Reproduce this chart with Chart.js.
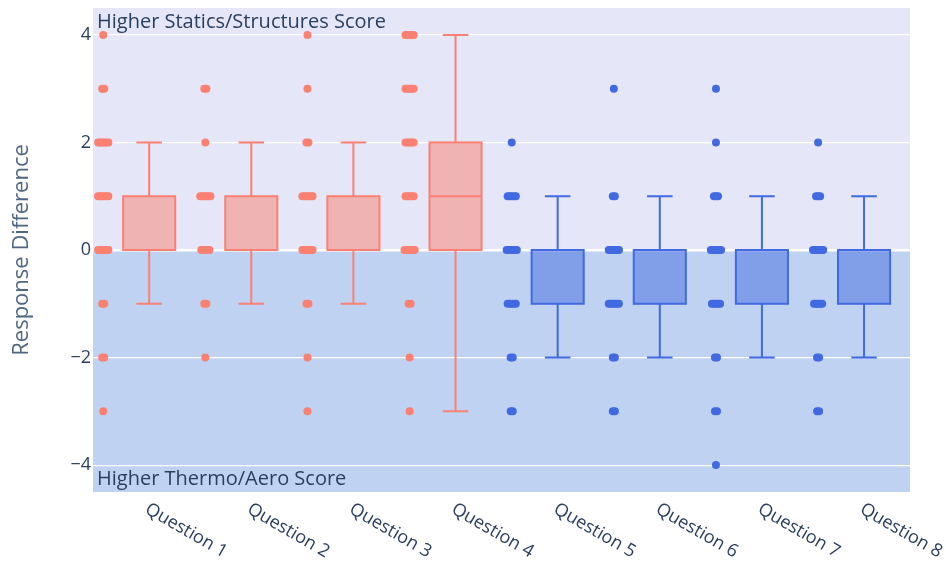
<!DOCTYPE html>
<html>
<head>
<meta charset="utf-8">
<script src="https://cdn.jsdelivr.net/npm/chart.js@4"></script>
<style>
  html, body { margin: 0; padding: 0; background: #fff; }
  #wrap { width: 946px; height: 563px; }
</style>
</head>
<body>
<div id="wrap"><canvas id="box"></canvas></div>
<script>
const questions = ['Question 1', 'Question 2', 'Question 3', 'Question 4',
                   'Question 5', 'Question 6', 'Question 7', 'Question 8']
const yTicks = [-4, -2, 0, 2, 4]

// individual responses (difference)
const q1 = [4, 3, 3, 2, 2, 2, 2, 2, 2, 1, 1, 1, 1, 1, 1, 0, 0, 0, 0, 0, 0, -1, -1, -2, -2, -3]
const q2 = [3, 3, 2, 1, 1, 1, 1, 1, 1, 0, 0, 0, 0, 0, -1, -1, -2]
const q3 = [4, 3, 2, 2, 1, 1, 1, 1, 1, 1, 0, 0, 0, 0, 0, 0, -1, -1, -2, -3]
const q4 = [4, 4, 4, 4, 4, 3, 3, 3, 3, 3, 2, 2, 2, 2, 2, 1, 1, 1, 1, 1, 0, 0, 0, 0, 0, 0, -1, -1, -2, -3]
const q5 = [2, 1, 1, 1, 1, 1, 0, 0, 0, 0, 0, 0, -1, -1, -1, -1, -1, -2, -2, -3, -3]
const q6 = [3, 1, 1, 0, 0, 0, 0, 0, 0, -1, -1, -1, -1, -1, -1, -2, -2, -3, -3]
const q7 = [3, 2, 1, 1, 1, 0, 0, 0, 0, 0, 0, -1, -1, -1, -1, -1, -2, -2, -3, -3, -4]
const q8 = [2, 1, 1, 1, 0, 0, 0, 0, 0, 0, -1, -1, -1, -1, -1, -2, -2, -3, -3]
const responses = [q1, q2, q3, q4, q5, q6, q7, q8]

// box statistics per question
const boxLow    = [-1, -1, -1, -3, -2, -2, -2, -2]
const boxQ1     = [0, 0, 0, 0, -1, -1, -1, -1]
const boxMedian = [0, 0, 0, 1, 0, 0, 0, 0]
const boxQ3     = [1, 1, 1, 2, 0, 0, 0, 0]
const boxHigh   = [2, 2, 2, 4, 1, 1, 1, 1]

const red = '#FA8072'
const blue = '#4169E1'
const redFill = 'rgba(250, 128, 114, 0.5)'
const blueFill = 'rgba(65, 105, 225, 0.5)'
const textColor = '#2a3f5f'
const fontName = '"Open Sans", "DejaVu Sans", sans-serif'

const pointShift = -0.40
const boxShift = 0.05
const boxHalf = 0.255
const capHalf = 0.125

function isRed(i) { return i < 4 }

function jitterPoints(values, i) {
    let counts = {}
    values.forEach(v => counts[v] = (counts[v] || 0) + 1)
    let seen = {}
    return values.map(v => {
        let n = counts[v]
        let k = seen[v] || 0
        seen[v] = k + 1
        let step = n > 1 ? Math.min(0.02, 0.1 / (n - 1)) : 0
        return {x: i + pointShift + (k - (n - 1) / 2) * step, y: v}
    })
}

const datasets = responses.map((vals, i) => ({
    label: questions[i],
    data: jitterPoints(vals, i),
    backgroundColor: isRed(i) ? red : blue,
    borderWidth: 0,
    pointRadius: 4,
    pointHoverRadius: 4
}))

const bandsPlugin = {
    id: 'bands',
    beforeDraw(chart) {
        const {ctx, chartArea: a, scales: {y}} = chart
        const y0 = y.getPixelForValue(0)
        ctx.save()
        ctx.fillStyle = '#E5E6F7'
        ctx.fillRect(a.left, a.top, a.right - a.left, y0 - a.top)
        ctx.fillStyle = '#C0D2F1'
        ctx.fillRect(a.left, y0, a.right - a.left, a.bottom - y0)
        ctx.restore()
    },
    afterDraw(chart) {
        const {ctx, chartArea: a, scales: {x}} = chart
        ctx.save()
        ctx.fillStyle = textColor
        ctx.font = '20px ' + fontName
        ctx.textAlign = 'left'
        ctx.textBaseline = 'middle'
        ctx.fillText('Higher Statics/Structures Score', a.left + 4, a.top + 14)
        ctx.fillText('Higher Thermo/Aero Score', a.left + 4, a.bottom - 13)
        // rotated category labels
        ctx.font = '18px ' + fontName
        ctx.textBaseline = 'top'
        questions.forEach((q, i) => {
            ctx.save()
            ctx.translate(x.getPixelForValue(i) + 7, a.bottom + 8)
            ctx.rotate(30 * Math.PI / 180)
            ctx.fillText(q, 0, 0)
            ctx.restore()
        })
        ctx.restore()
    }
}

const boxPlugin = {
    id: 'boxes',
    beforeDatasetsDraw(chart) {
        const {ctx, scales: {x, y}} = chart
        ctx.save()
        ctx.lineWidth = 2
        questions.forEach((q, i) => {
            const c = i + boxShift
            const xl = x.getPixelForValue(c - boxHalf)
            const xr = x.getPixelForValue(c + boxHalf)
            const xm = x.getPixelForValue(c)
            const cl = x.getPixelForValue(c - capHalf)
            const cr = x.getPixelForValue(c + capHalf)
            const yq1 = y.getPixelForValue(boxQ1[i])
            const yq3 = y.getPixelForValue(boxQ3[i])
            const ymed = y.getPixelForValue(boxMedian[i])
            const ylo = y.getPixelForValue(boxLow[i])
            const yhi = y.getPixelForValue(boxHigh[i])
            ctx.strokeStyle = isRed(i) ? red : blue
            ctx.fillStyle = isRed(i) ? redFill : blueFill
            // whiskers
            ctx.beginPath()
            ctx.moveTo(xm, yq3); ctx.lineTo(xm, yhi)
            ctx.moveTo(cl, yhi); ctx.lineTo(cr, yhi)
            ctx.moveTo(xm, yq1); ctx.lineTo(xm, ylo)
            ctx.moveTo(cl, ylo); ctx.lineTo(cr, ylo)
            ctx.stroke()
            // box
            ctx.fillRect(xl, yq3, xr - xl, yq1 - yq3)
            ctx.strokeRect(xl, yq3, xr - xl, yq1 - yq3)
            ctx.beginPath()
            ctx.moveTo(xl, ymed); ctx.lineTo(xr, ymed)
            ctx.stroke()
        })
        ctx.restore()
    }
}

new Chart(document.getElementById('box'), {
    type: 'scatter',
    data: {datasets: datasets},
    options: {
        responsive: true,
        maintainAspectRatio: false,
        animation: false,
        layout: {padding: {left: 0, right: 36, top: 8, bottom: 0}},
        plugins: {legend: {display: false}, tooltip: {enabled: false}},
        scales: {
            x: {
                type: 'linear',
                min: -0.5,
                max: 7.5,
                grid: {display: false},
                border: {display: false},
                ticks: {display: false},
                afterFit(scale) { scale.height = 71 }
            },
            y: {
                min: -4.5,
                max: 4.5,
                afterBuildTicks(scale) { scale.ticks = yTicks.map(v => ({value: v})) },
                grid: {
                    color: '#ffffff',
                    lineWidth: c => c.tick && c.tick.value === 0 ? 2.5 : 1.2,
                    drawTicks: false
                },
                border: {display: false},
                ticks: {
                    color: textColor,
                    font: {family: fontName, size: 18},
                    padding: 2,
                    callback: v => v < 0 ? '\u2212' + Math.abs(v) : String(v)
                },
                title: {
                    display: true,
                    text: 'Response Difference',
                    color: '#506784',
                    font: {family: fontName, size: 22},
                    padding: {top: 9, bottom: 0}
                },
                afterFit(scale) {
                    scale.width = 93
                    scale.paddingTop = 0
                    scale.paddingBottom = 0
                }
            }
        }
    },
    plugins: [bandsPlugin, boxPlugin]
})
</script>
</body>
</html>
